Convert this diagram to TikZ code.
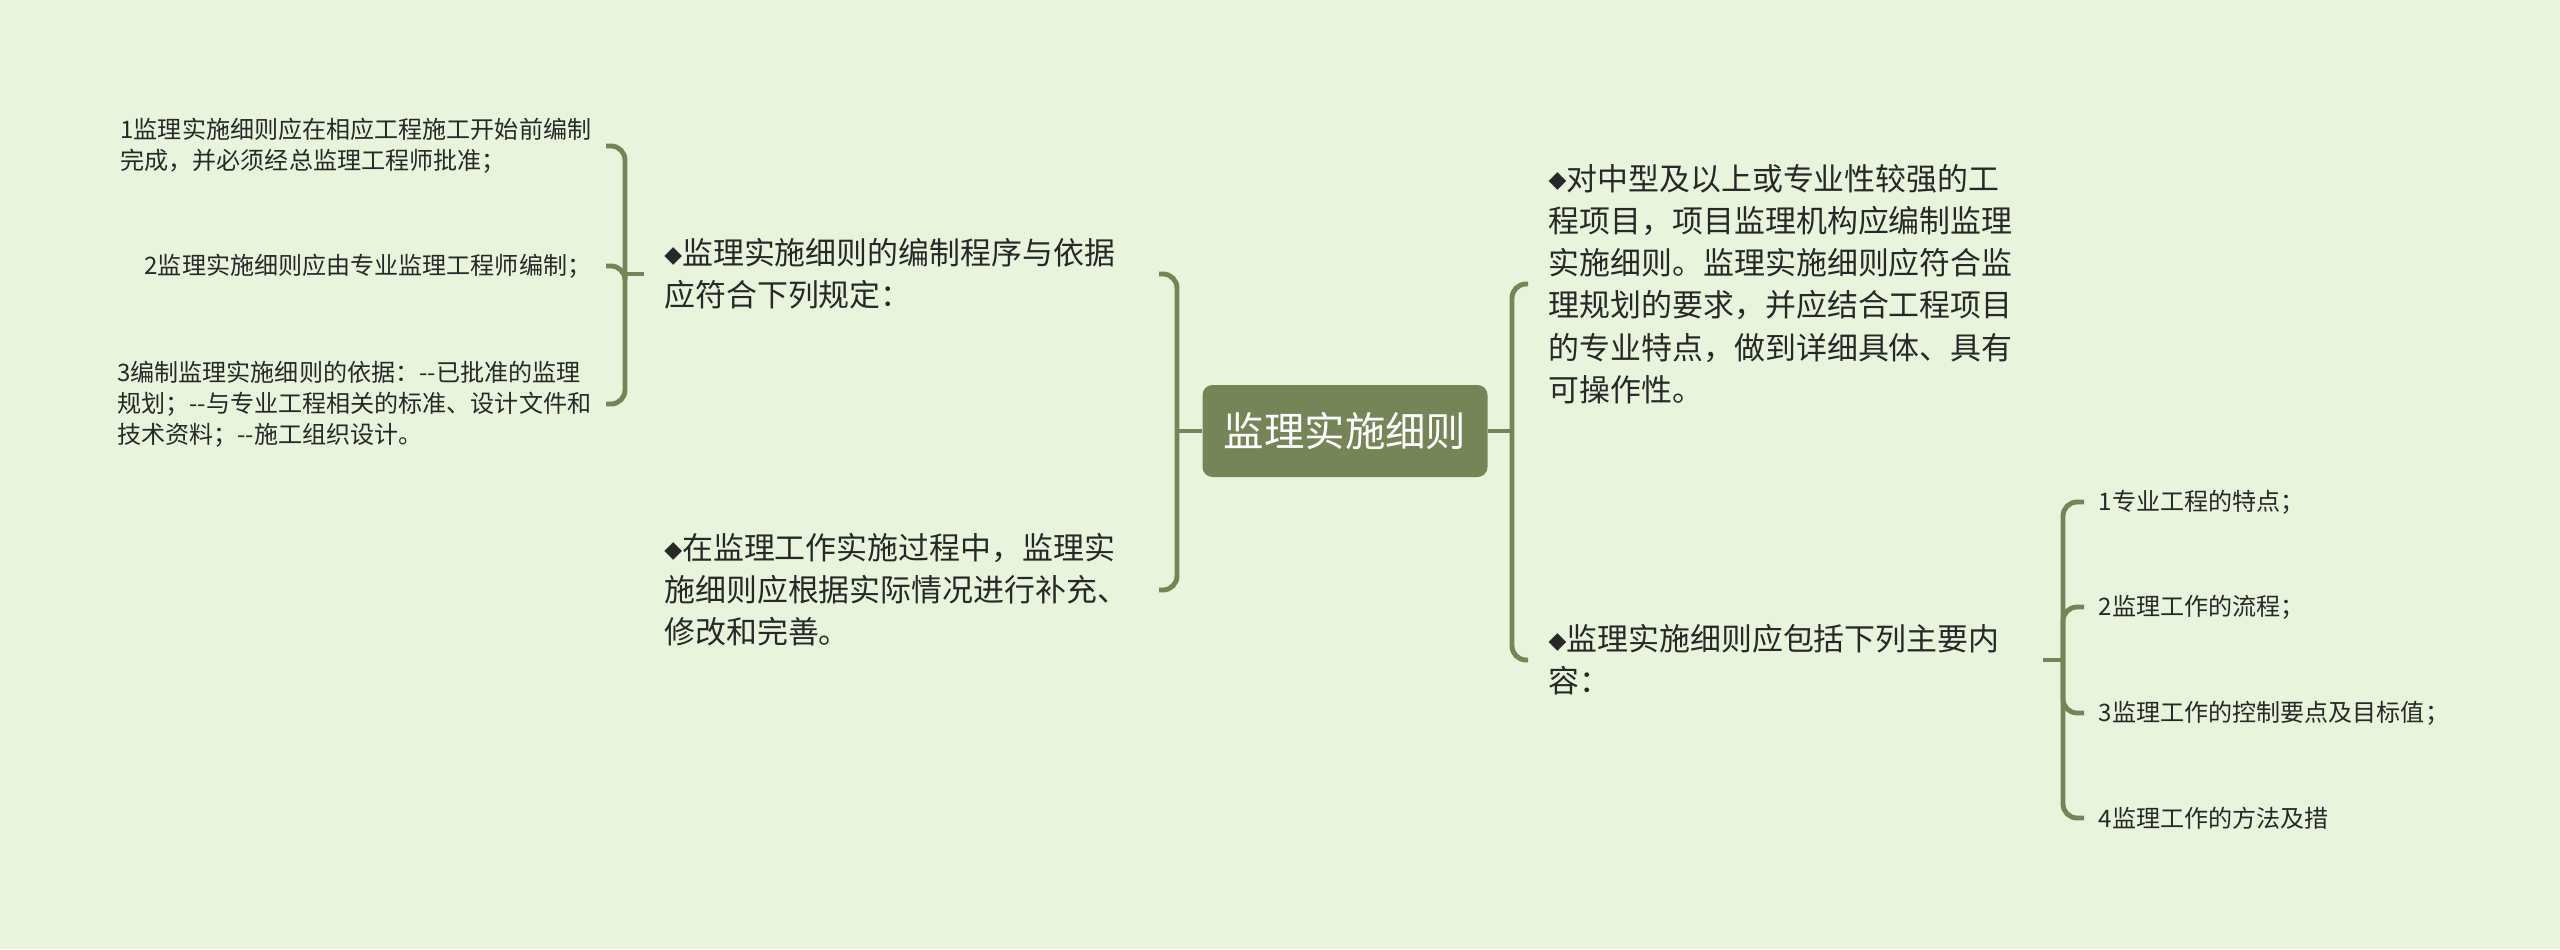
\documentclass[tikz,border=0pt]{standalone}
\usepackage{fontspec}
\setmainfont{Noto Sans CJK SC}
\newfontfamily\symfont{DejaVu Sans}[Scale=0.75]
\usepackage{tikz}
\pgfdeclarelayer{bglayer}
\pgfdeclarelayer{nodelayer}
\pgfdeclarelayer{edgelayer}
\pgfsetlayers{bglayer,edgelayer,nodelayer,main}
\definecolor{bgcol}{RGB}{232,245,220}
\definecolor{linecol}{RGB}{117,133,88}
\definecolor{txtcol}{RGB}{40,40,40}
\tikzstyle{root}=[fill=linecol, text=white, shape=rectangle, rounded corners=0.1cm, minimum width=2.85cm, minimum height=0.92cm, font=\fontsize{11.5}{14}\selectfont]
\tikzstyle{topic}=[text=txtcol, shape=rectangle, text width=4.74cm, align=left, inner xsep=0.2cm, font=\fontsize{8.8}{12}\selectfont]
\tikzstyle{leaf}=[text=txtcol, shape=rectangle, align=left, inner xsep=0.14cm, font=\fontsize{6.85}{8.8}\selectfont]
\tikzstyle{branch}=[draw=linecol, line width=1.4pt, rounded corners=0.14cm]
\newcommand{\dmd}{\raisebox{0.08em}{\symfont ◆}}

\begin{document}
\begin{tikzpicture}
	\begin{pgfonlayer}{bglayer}
		\fill [bgcol] (0, 0) rectangle (25.6, 9.49);
	\end{pgfonlayer}
	\useasboundingbox (0, 0) rectangle (25.6, 9.49);
	\begin{pgfonlayer}{nodelayer}
		\node [style=root] (0) at (13.45, 5.18) {监理实施细则};
		\node [style=topic, anchor=east] (1) at (11.59, 6.75) {\dmd{}监理实施细则的编制程序与依据\\应符合下列规定：};
		\node [style=topic, anchor=east] (2) at (11.59, 3.59) {\dmd{}在监理工作实施过程中，监理实\\施细则应根据实际情况进行补充、\\修改和完善。};
		\node [style=topic, anchor=west] (3) at (15.28, 6.65) {\dmd{}对中型及以上或专业性较强的工\\程项目，项目监理机构应编制监理\\实施细则。监理实施细则应符合监\\理规划的要求，并应结合工程项目\\的专业特点，做到详细具体、具有\\可操作性。};
		\node [style=topic, anchor=west] (4) at (15.28, 2.89) {\dmd{}监理实施细则应包括下列主要内\\容：};
		\node [style=leaf, anchor=east] (5) at (6.06, 8.03) {1监理实施细则应在相应工程施工开始前编制\\完成，并必须经总监理工程师批准；};
		\node [style=leaf, anchor=east] (6) at (6.06, 6.83) {2监理实施细则应由专业监理工程师编制；};
		\node [style=leaf, anchor=east] (7) at (6.06, 5.45) {3编制监理实施细则的依据：-{}-已批准的监理\\规划；-{}-与专业工程相关的标准、设计文件和\\技术资料；-{}-施工组织设计。};
		\node [style=leaf, anchor=west] (8) at (20.84, 4.47) {1专业工程的特点；};
		\node [style=leaf, anchor=west] (9) at (20.84, 3.42) {2监理工作的流程；};
		\node [style=leaf, anchor=west] (10) at (20.84, 2.36) {3监理工作的控制要点及目标值；};
		\node [style=leaf, anchor=west] (11) at (20.84, 1.31) {4监理工作的方法及措};
		\coordinate (12) at (11.77, 5.18);
		\coordinate (13) at (15.12, 5.18);
		\coordinate (14) at (6.25, 6.75);
		\coordinate (15) at (20.63, 2.89);
	\end{pgfonlayer}
	\begin{pgfonlayer}{edgelayer}
		\draw [style=branch] (0.west) -- (12);
		\draw [style=branch] (1.east) -| (12) |- (2.east);
		\draw [style=branch] (0.east) -- (13);
		\draw [style=branch] (3.west) -| (13) |- (4.west);
		\draw [style=branch] (1.west) -- (14);
		\draw [style=branch] (5.east) -| (14) |- (7.east);
		\draw [style=branch] (14) |- (6.east);
		\draw [style=branch] (4.east) -- (15);
		\draw [style=branch] (8.west) -| (15) |- (11.west);
		\draw [style=branch] (15) |- (9.west);
		\draw [style=branch] (15) |- (10.west);
	\end{pgfonlayer}
\end{tikzpicture}
\end{document}
